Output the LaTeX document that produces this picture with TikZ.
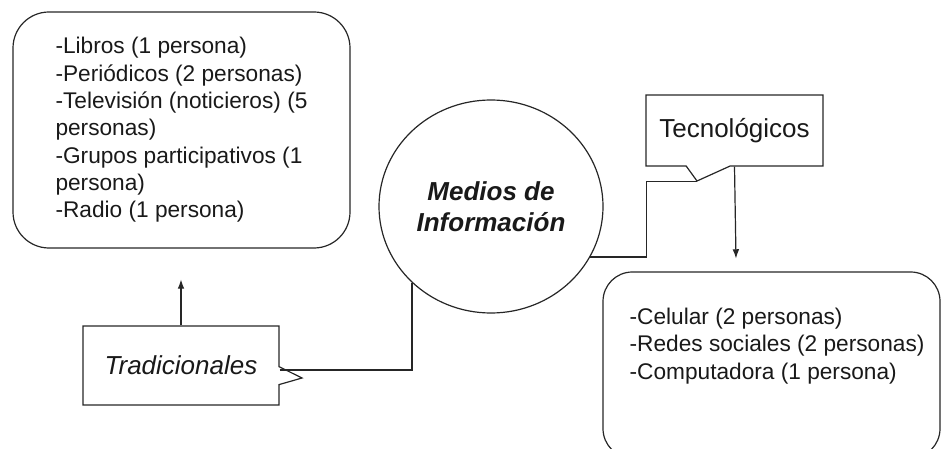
\documentclass[tikz,border=0pt]{standalone}
\usepackage{fontspec}
\setmainfont{Liberation Sans}
\usetikzlibrary{shapes.geometric,shapes.callouts,arrows.meta,calc}

\begin{document}
\begin{tikzpicture}[
    x=0.75pt, y=-0.75pt,
    every node/.style={text=black!90},
    listbox/.style={draw=black!85, line width=0.9pt, rounded corners=27pt,
                    minimum width=252.75pt, minimum height=177pt,
                    align=left, font=\fontsize{17}{20.5}\selectfont},
    callbox/.style={rectangle callout, draw=black!85, line width=0.9pt,
                    font=\fontsize{19.5}{23.5}\selectfont},
    hub/.style={ellipse, draw=black!85, line width=0.9pt, inner sep=0pt,
                align=center, font=\fontsize{19.5}{23.5}\selectfont\bfseries\itshape},
    listtext/.style={align=left, inner sep=0pt, font=\fontsize{17}{20.5}\selectfont},
    arr/.style={-{Latex[length=7pt,width=5pt]}, line width=0.9pt, draw=black!85},
    link/.style={line width=0.9pt, draw=black!85}
  ]
    \useasboundingbox (0,0) rectangle (942,449);

    \node[listbox] (tradbox) at (181.5,130)
      {-Libros (1 persona)\\-Periódicos (2 personas)\\-Televisión (noticieros) (5\\personas)\\-Grupos participativos (1\\persona)\\-Radio (1 persona)};
    \node[hub, minimum width=168pt, minimum height=159.75pt] (medios) at (491,206.5)
      {Medios de\\Información};
    \node[callbox, font=\fontsize{19.5}{23.5}\selectfont\itshape,
          minimum width=147pt, minimum height=59.25pt,
          callout absolute pointer={(302,378)}, callout pointer width=13.5pt] (trad) at (181,365.5)
      {Tradicionales};
    \node[callbox, minimum width=132.75pt, minimum height=53.25pt,
          callout absolute pointer={(697,181)}, callout pointer width=33pt] (tec) at (734.5,130.5)
      {Tecnológicos};
    \node[listbox, minimum height=139.5pt, rounded corners=22pt] (tecbox) at (771.5,365) {};
    \node[listtext, anchor=west] (teclist) at ($(tecbox.west)+(27,-19)$)
      {-Celular (2 personas)\\-Redes sociales (2 personas)\\-Computadora (1 persona)};

    \coordinate (tradtip) at ($(trad.north)+(0,-46)$);
    \coordinate (tectip)  at ($(tec.south)+(1.5,92)$);

    \draw[arr]  (trad.north) -- (tradtip);
    \draw[link] ($(trad.east)+(0,4.5)$) -| (medios.224);
    \draw[link] (medios.333) -| ($(tec.pointer)+(-50,0)$) -- (tec.pointer);
    \draw[arr]  (tec.south) -- (tectip);
  \end{tikzpicture}
\end{document}
